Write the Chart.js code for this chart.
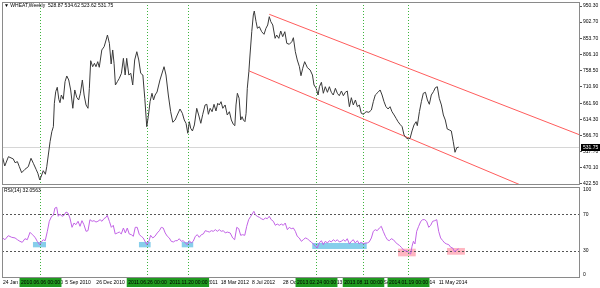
<!DOCTYPE html>
<html lang="en">
<head>
<meta charset="UTF-8">
<title>WHEAT Weekly</title>
<script src="https://cdn.jsdelivr.net/npm/chart.js"></script>
<style>
  * { margin: 0; padding: 0; box-sizing: border-box; }
  body { width: 600px; height: 288px; background: #fff; position: relative; overflow: hidden; }
  canvas { position: absolute; left: 0; }
  #priceChart { top: 0; }
  #rsiChart { top: 180px; }
</style>
</head>
<body>
<canvas id="priceChart" width="600" height="190"></canvas>
<canvas id="rsiChart" width="600" height="108"></canvas>
<script>
// x = weeks counted from the 24 Jan 2010 bar
const priceWeeks = [
  -0.1, 0.9, 2.8, 5.3, 6.2, 7.4, 8.4, 9.6, 11.3, 13.0, 14.4, 15.6, 17.0, 17.9, 18.9, 19.9, 20.7, 21.8, 22.5, 23.3,
  24.2, 25.1, 25.9, 26.4, 27.1, 27.9, 28.7, 29.3, 30.0, 31.0, 31.9, 32.8, 33.8, 34.8, 35.9, 36.9, 37.9, 38.9, 39.8, 40.8,
  41.7, 42.7, 43.7, 44.4, 45.1, 46.1, 47.0, 47.8, 48.7, 49.5, 50.8, 52.0, 53.0, 53.7, 54.7, 55.6, 56.4, 57.1, 57.8, 58.8,
  59.8, 60.9, 61.9, 62.8, 63.6, 64.7, 65.7, 66.7, 67.7, 68.8, 69.8, 70.8, 71.9, 72.9, 73.9, 74.7, 75.6, 76.6, 77.4, 78.2,
  79.2, 80.7, 82.8, 83.8, 85.0, 86.2, 87.3, 88.5, 89.6, 91.0, 92.2, 93.2, 94.1, 95.0, 95.8, 96.5, 97.4, 98.4, 99.6, 100.6,
  101.7, 102.7, 103.9, 104.8, 105.6, 106.5, 107.5, 108.5, 109.5, 110.4, 111.2, 112.1, 113.0, 114.2, 115.3, 116.4, 117.4, 118.4, 119.2, 119.8,
  120.5, 121.4, 122.2, 122.9, 123.6, 124.4, 125.0, 125.6, 126.4, 127.0, 127.9, 128.7, 129.2, 130.1, 130.8, 131.8, 133.0, 134.2, 135.2, 136.1,
  136.9, 137.7, 138.7, 139.9, 140.7, 141.8, 142.8, 143.8, 144.9, 145.9, 147.2, 148.5, 149.3, 150.3, 151.3, 152.4, 153.2, 154.1, 155.1, 156.5,
  157.9, 159.1, 159.9, 161.0, 162.0, 162.7, 163.7, 164.7, 165.7, 166.8, 167.8, 168.8, 169.8, 170.9, 171.9, 172.9, 174.0, 175.0, 176.0, 177.0,
  178.1, 179.1, 180.1, 181.2, 182.2, 183.2, 184.2, 185.3, 186.7, 188.1, 189.4, 190.4, 191.4, 192.8, 193.9, 194.9, 195.9, 196.9, 198.0, 199.0,
  200.0, 201.1, 202.1, 203.1, 204.1, 205.2, 206.2, 207.2, 208.3, 209.3, 210.3, 211.3, 212.4, 213.0, 214.1, 215.1, 216.1, 217.2, 218.2, 219.2,
  220.2, 221.3, 222.3, 223.3, 224.3, 225.4, 226.4, 227.4, 228.4, 229.5, 230.5, 231.5, 232.4, 233.3, 234.3
];
const priceCloses = [
  499.6, 475.9, 503.5, 496.7, 485.7, 488.7, 473.8, 456.0, 466.1, 473.8, 498.7, 483.9, 466.1, 454.3, 434.4, 449.2, 462.0, 451.3, 473.8, 508.5,
  548.0, 577.6, 592.4, 661.8, 696.2, 709.3, 673.7, 663.6, 686.4, 673.7, 725.9, 742.8, 730.9, 701.3, 647.0, 701.3, 679.6, 671.6, 691.5, 730.9,
  686.4, 656.8, 647.0, 706.3, 788.1, 770.3, 780.4, 770.3, 785.2, 768.6, 819.9, 829.6, 849.5, 864.3, 839.7, 778.3, 819.9, 780.4, 716.1, 725.9,
  735.9, 750.8, 795.2, 745.7, 795.2, 745.7, 750.8, 716.1, 790.2, 814.8, 790.2, 750.8, 745.7, 676.6, 592.4, 622.1, 666.6, 691.5, 671.6, 686.4,
  695.3, 730.9, 770.3, 745.7, 686.4, 636.9, 605.5, 612.3, 627.1, 644.9, 632.2, 612.3, 602.5, 572.9, 607.3, 587.7, 579.7, 597.5, 646.9, 627.1,
  602.5, 629.2, 656.8, 658.8, 629.2, 646.9, 636.9, 658.8, 639.0, 661.8, 656.8, 666.6, 646.9, 656.8, 627.1, 636.9, 612.3, 599.6, 595.4, 656.8,
  691.5, 676.6, 612.3, 622.1, 612.3, 607.3, 632.2, 706.3, 755.5, 805.0, 874.1, 923.6, 935.5, 903.8, 884.2, 888.9, 874.1, 866.4, 884.2, 894.0,
  918.6, 903.8, 894.0, 854.5, 864.3, 854.5, 876.2, 859.3, 874.1, 839.7, 836.8, 844.5, 856.3, 814.8, 790.2, 770.3, 743.6, 765.6, 785.2, 767.4,
  760.6, 745.7, 716.1, 706.3, 686.4, 711.0, 724.1, 691.5, 711.0, 694.4, 711.0, 694.4, 686.4, 706.3, 691.5, 684.3, 698.3, 684.3, 694.4, 698.3,
  651.7, 678.4, 656.8, 671.6, 651.7, 656.8, 632.2, 629.2, 636.9, 635.1, 641.9, 666.6, 686.4, 694.4, 701.3, 686.4, 666.6, 651.7, 644.9, 651.7,
  636.9, 627.1, 617.3, 607.3, 599.6, 592.4, 567.8, 559.8, 556.0, 558.0, 579.7, 597.5, 607.3, 595.4, 636.9, 666.6, 691.5, 694.4, 671.6, 658.8,
  686.4, 696.2, 708.1, 711.0, 676.6, 656.8, 627.1, 612.3, 585.6, 582.7, 579.7, 547.9, 516.5, 530.2, 531.75
];
const rsiWeeks = [
  -0.2, 1.0, 2.7, 4.5, 6.2, 7.4, 8.7, 9.9, 11.3, 12.5, 13.9, 15.1, 16.5, 17.6, 18.9, 19.7, 20.7, 21.7, 22.8, 23.8,
  25.0, 25.9, 26.7, 27.6, 28.4, 29.3, 30.3, 31.4, 32.4, 33.4, 34.4, 35.5, 36.5, 37.5, 38.6, 39.6, 40.6, 41.6, 42.7, 43.7,
  44.7, 45.8, 46.8, 47.8, 48.8, 49.9, 50.9, 51.9, 53.0, 53.6, 54.7, 55.7, 56.7, 57.7, 58.8, 59.8, 60.8, 61.9, 62.9, 63.9,
  64.9, 66.0, 67.0, 68.0, 69.0, 70.1, 71.1, 72.1, 73.2, 73.9, 74.9, 75.9, 77.0, 78.1, 79.3, 80.4, 81.4, 82.4, 83.4, 84.5,
  85.5, 86.5, 87.6, 88.6, 89.6, 90.6, 91.7, 92.7, 93.7, 94.8, 95.8, 96.8, 97.8, 98.9, 99.9, 100.9, 102.0, 103.0, 104.0, 105.0,
  106.1, 107.1, 108.1, 109.2, 110.2, 111.2, 112.2, 113.3, 114.3, 115.3, 116.8, 118.1, 119.1, 120.2, 121.2, 122.2, 123.2, 124.3, 125.3, 126.3,
  127.4, 128.4, 129.0, 129.7, 130.7, 131.8, 132.8, 133.8, 134.9, 135.9, 136.9, 137.9, 139.0, 140.0, 141.0, 142.1, 143.1, 144.1, 145.1, 146.2,
  147.2, 148.2, 149.3, 150.3, 151.3, 152.3, 153.4, 154.4, 155.4, 156.5, 157.5, 158.5, 159.5, 160.6, 161.6, 162.6, 163.7, 164.7, 165.7, 166.8,
  167.8, 168.8, 169.8, 170.9, 171.9, 172.9, 173.9, 175.0, 176.0, 177.0, 178.1, 179.1, 180.1, 181.1, 182.2, 183.2, 184.2, 185.2, 186.3, 187.3,
  188.3, 189.4, 190.4, 191.4, 192.4, 193.5, 194.5, 195.5, 196.6, 197.6, 198.6, 199.6, 200.7, 201.7, 202.7, 203.8, 204.8, 205.8, 206.8, 207.9,
  208.9, 209.6, 210.3, 211.0, 211.8, 212.7, 213.7, 214.8, 215.8, 216.8, 217.8, 218.9, 219.9, 220.9, 222.0, 223.0, 224.0, 225.0, 226.1, 227.1,
  228.1, 229.2, 230.2, 231.2, 232.2, 233.3, 234.3
];
const rsiValues = [
  44.0, 42.1, 46.5, 44.7, 44.0, 42.1, 40.3, 39.2, 43.2, 42.1, 50.2, 47.6, 44.7, 40.3, 36.6, 39.6, 42.1, 41.0, 51.3, 62.3,
  67.8, 68.9, 76.9, 77.7, 67.8, 70.3, 67.8, 68.9, 72.5, 71.4, 65.9, 55.7, 60.4, 58.6, 62.3, 56.8, 63.0, 58.6, 51.3, 52.0,
  64.1, 62.3, 63.0, 61.5, 62.3, 64.1, 62.3, 65.2, 66.7, 68.9, 62.3, 55.7, 57.9, 48.4, 49.5, 50.5, 48.4, 54.9, 49.5, 54.9,
  48.4, 47.6, 45.8, 55.7, 55.7, 47.6, 45.8, 44.0, 39.6, 36.6, 39.6, 46.9, 44.0, 45.8, 49.5, 52.0, 55.7, 54.9, 49.5, 45.8,
  44.0, 40.3, 39.6, 41.0, 41.0, 43.2, 40.3, 41.0, 38.5, 36.6, 41.0, 38.5, 40.3, 45.8, 47.6, 44.7, 47.6, 48.4, 52.0, 51.3,
  50.5, 52.0, 51.3, 53.1, 51.3, 53.1, 51.3, 52.0, 49.5, 50.5, 49.5, 44.0, 42.1, 55.7, 54.2, 46.9, 47.6, 46.9, 56.8, 64.1,
  67.8, 71.4, 73.3, 69.6, 67.8, 66.7, 65.2, 64.1, 65.9, 65.2, 67.8, 64.1, 62.3, 57.9, 59.3, 57.9, 59.3, 57.9, 60.4, 53.1,
  55.7, 54.2, 54.9, 51.3, 45.8, 44.0, 40.3, 42.1, 44.0, 43.2, 41.0, 39.6, 37.4, 34.8, 33.0, 38.5, 41.0, 36.6, 40.3, 38.5,
  41.0, 39.6, 42.1, 40.3, 42.1, 39.6, 40.3, 42.1, 40.3, 43.2, 37.4, 40.3, 42.1, 38.5, 41.0, 37.4, 39.6, 37.4, 38.5, 38.5,
  39.6, 44.0, 51.3, 53.1, 52.0, 54.9, 56.8, 51.3, 45.8, 42.1, 41.0, 43.2, 42.1, 39.6, 37.4, 35.9, 33.7, 31.1, 30.0, 29.3,
  27.5, 26.4, 34.8, 40.3, 37.4, 51.3, 56.8, 62.3, 64.1, 64.1, 62.3, 55.7, 57.9, 62.3, 63.0, 64.1, 51.3, 44.0, 41.0, 38.5,
  37.4, 36.6, 33.7, 33.0, 28.6, 31.1, 32.0563
];

const lastBar = [528.87, 534.62, 523.62, 531.75]; // open, high, low, close
const priceTicks = [950.30, 902.70, 853.70, 806.10, 758.50, 710.90, 661.90, 614.30, 566.70, 517.70, 470.10, 422.50];
const rsiTicks = [100, 70, 30, 0];
const rsiLevels = [70, 30];

const dateTickWeeks = [0, 16, 32, 48, 64, 80, 96, 112, 128, 144, 160, 176, 192, 208, 224];
const dateTickLabels = ['24 Jan 2010', '16 May 2010', '5 Sep 2010', '26 Dec 2010', '17 Apr 2011', '7 Aug 2011',
  '27 Nov 2011', '18 Mar 2012', '8 Jul 2012', '28 Oct 2012', '17 Feb 2013', '9 Jun 2013', '29 Sep 2013',
  '19 Jan 2014', '11 May 2014'];

// vertical marker lines
const markerWeeks = [19, 74, 95, 161, 185, 208];
const markerLabels = ['2010.06.06 00:00', '2011.06.26 00:00', '2011.11.20 00:00',
  '2013.02.24 00:00', '2013.08.11 00:00', '2014.01.19 00:00'];

// trend lines, [week, price] at each end
const upperTrend = [[136.9, 925.7], [296.7, 567.8]];
const lowerTrend = [[126.6, 757.6], [296.7, 345.4]];

// RSI zones: week range and RSI range
const zoneStart = [15.4, 69.9, 91.9, 159.0, 203.1, 228.3];
const zoneEnd = [22.1, 75.9, 97.8, 187.0, 212.2, 237.5];
const zoneLow = [33.7, 33.7, 33.7, 31.9, 23.8, 25.6];
const zoneHigh = [39.6, 39.6, 39.6, 38.5, 32.2, 33.0];
const zoneType = ['watch', 'watch', 'watch', 'watch', 'oversold', 'oversold'];

const X_MIN = -0.514, X_MAX = 296.66;
const FONT = 'Liberation Sans, Arial, sans-serif';
Chart.defaults.font.family = FONT;
Chart.defaults.font.size = 5;
Chart.defaults.color = '#000';

function toPoints(xs, ys) {
  return xs.map((x, i) => ({ x: x, y: ys[i] }));
}

function drawFrame(chart) {
  const { ctx, chartArea: a } = chart;
  ctx.save();
  ctx.strokeStyle = '#8a8a8a';
  ctx.lineWidth = 1;
  ctx.strokeRect(Math.round(a.left) + 0.5, Math.round(a.top) + 0.5,
    Math.round(a.right - a.left) - 1, Math.round(a.bottom - a.top) - 1);
  ctx.restore();
}

function drawMarkerLines(chart) {
  const { ctx, chartArea: a } = chart;
  const xs = chart.scales.x;
  ctx.save();
  ctx.strokeStyle = '#3db43d';
  ctx.lineWidth = 1;
  ctx.setLineDash([1, 2]);
  markerWeeks.forEach(w => {
    const px = Math.round(xs.getPixelForValue(w)) + 0.5;
    ctx.beginPath();
    ctx.moveTo(px, a.top);
    ctx.lineTo(px, a.bottom);
    ctx.stroke();
  });
  ctx.restore();
}

const priceDecor = {
  id: 'priceDecor',
  beforeDatasetsDraw(chart) {
    const { ctx, chartArea: a } = chart;
    const py = Math.round(chart.scales.y.getPixelForValue(lastBar[3])) + 0.5;
    ctx.save();
    ctx.strokeStyle = '#d6d6d6';
    ctx.lineWidth = 1;
    ctx.beginPath();
    ctx.moveTo(a.left, py);
    ctx.lineTo(a.right, py);
    ctx.stroke();
    ctx.restore();
    drawMarkerLines(chart);
  },
  afterDraw(chart) {
    const { ctx, chartArea: a } = chart;
    drawFrame(chart);
    ctx.save();
    ctx.font = '5px ' + FONT;
    ctx.fillStyle = '#000';
    ctx.textBaseline = 'middle';
    ctx.fillText('\u25BC WHEAT,Weekly  ' + lastBar.map(v => v.toFixed(2)).join(' '), a.left + 2, a.top + 4);
    // current price tag
    const py = chart.scales.y.getPixelForValue(lastBar[3]);
    ctx.fillStyle = '#000';
    ctx.fillRect(a.right + 1, Math.round(py) - 3, 19, 7);
    ctx.fillStyle = '#fff';
    ctx.fillText(lastBar[3].toFixed(2), a.right + 3, Math.round(py) + 0.5);
    ctx.restore();
  }
};

const rsiDecor = {
  id: 'rsiDecor',
  beforeDatasetsDraw(chart) {
    const { ctx, chartArea: a } = chart;
    const xs = chart.scales.x, ys = chart.scales.y;
    ctx.save();
    zoneStart.forEach((s, i) => {
      const x0 = xs.getPixelForValue(s), x1 = xs.getPixelForValue(zoneEnd[i]);
      const y0 = ys.getPixelForValue(zoneHigh[i]), y1 = ys.getPixelForValue(zoneLow[i]);
      ctx.fillStyle = zoneType[i] === 'watch' ? '#87ceeb' : '#ffb6c1';
      ctx.fillRect(x0, y0, x1 - x0, y1 - y0);
    });
    ctx.strokeStyle = '#555';
    ctx.lineWidth = 1;
    ctx.setLineDash([2, 2]);
    rsiLevels.forEach(v => {
      const py = Math.round(ys.getPixelForValue(v)) + 0.5;
      ctx.beginPath();
      ctx.moveTo(a.left, py);
      ctx.lineTo(a.right, py);
      ctx.stroke();
    });
    ctx.restore();
    drawMarkerLines(chart);
  },
  afterDraw(chart) {
    const { ctx, chartArea: a } = chart;
    const xs = chart.scales.x, ys = chart.scales.y;
    drawFrame(chart);
    ctx.save();
    ctx.font = '5px ' + FONT;
    ctx.fillStyle = '#000';
    ctx.textBaseline = 'middle';
    ctx.fillText('RSI(14) ' + rsiValues[rsiValues.length - 1].toFixed(4), a.left + 2, a.top + 4);
    rsiTicks.forEach(v => {
      const py = Math.min(Math.max(ys.getPixelForValue(v), a.top + 3), a.bottom - 3);
      ctx.fillText(String(v), a.right + 3, py);
    });
    // marker time tags
    markerWeeks.forEach((w, i) => {
      const px = Math.round(xs.getPixelForValue(w)) + 0.5;
      const tw = ctx.measureText(markerLabels[i]).width + 3;
      ctx.fillStyle = '#1f9a1f';
      ctx.fillRect(px - tw / 2, a.bottom, tw, 9);
      ctx.fillStyle = '#000';
      ctx.textAlign = 'center';
      ctx.fillText(markerLabels[i], px, a.bottom + 4.5);
      ctx.textAlign = 'left';
    });
    ctx.restore();
  }
};

const common = {
  responsive: false,
  animation: false,
  events: [],
  plugins: { legend: { display: false }, tooltip: { enabled: false } },
  elements: { point: { radius: 0 }, line: { tension: 0 } }
};

new Chart(document.getElementById('priceChart'), {
  type: 'line',
  data: {
    datasets: [
      { data: toPoints(priceWeeks, priceCloses), borderColor: '#3a3a3a', borderWidth: 1 },
      { data: upperTrend.map(p => ({ x: p[0], y: p[1] })), borderColor: '#ff5c5c', borderWidth: 1 },
      { data: lowerTrend.map(p => ({ x: p[0], y: p[1] })), borderColor: '#ff5c5c', borderWidth: 1 }
    ]
  },
  options: {
    ...common,
    layout: { padding: { left: 2, top: 2, right: 0, bottom: 5 } },
    scales: {
      x: { type: 'linear', display: false, min: X_MIN, max: X_MAX },
      y: {
        position: 'right',
        min: 419.5,
        max: 962.2,
        afterBuildTicks: s => { s.ticks = priceTicks.map(v => ({ value: v })); },
        afterFit: s => { s.width = 20; s.paddingTop = 0; s.paddingBottom = 0; },
        ticks: { autoSkip: false, padding: 1, callback: v => v.toFixed(2) },
        grid: { drawOnChartArea: false, drawTicks: true, tickLength: 2, color: '#555' },
        border: { display: false }
      }
    }
  },
  plugins: [priceDecor]
});

new Chart(document.getElementById('rsiChart'), {
  type: 'line',
  data: {
    datasets: [
      { data: toPoints(rsiWeeks, rsiValues), borderColor: '#c263e6', borderWidth: 1 }
    ]
  },
  options: {
    ...common,
    layout: { padding: { left: 2, top: 7, right: 0, bottom: 0 } },
    scales: {
      x: {
        type: 'linear',
        min: X_MIN,
        max: X_MAX,
        afterBuildTicks: s => { s.ticks = dateTickWeeks.map(v => ({ value: v })); },
        afterFit: s => { s.height = 10; s.paddingLeft = 0; s.paddingRight = 0; },
        ticks: {
          autoSkip: false,
          maxRotation: 0,
          align: 'start',
          padding: 2,
          callback: (v, i) => dateTickLabels[i]
        },
        grid: { display: false, drawTicks: false },
        border: { display: false }
      },
      y: {
        position: 'right',
        min: 0,
        max: 100,
        afterFit: s => { s.width = 20; s.paddingTop = 0; s.paddingBottom = 0; },
        ticks: { display: false },
        grid: { display: false, drawTicks: false },
        border: { display: false }
      }
    }
  },
  plugins: [rsiDecor]
});
</script>
</body>
</html>
